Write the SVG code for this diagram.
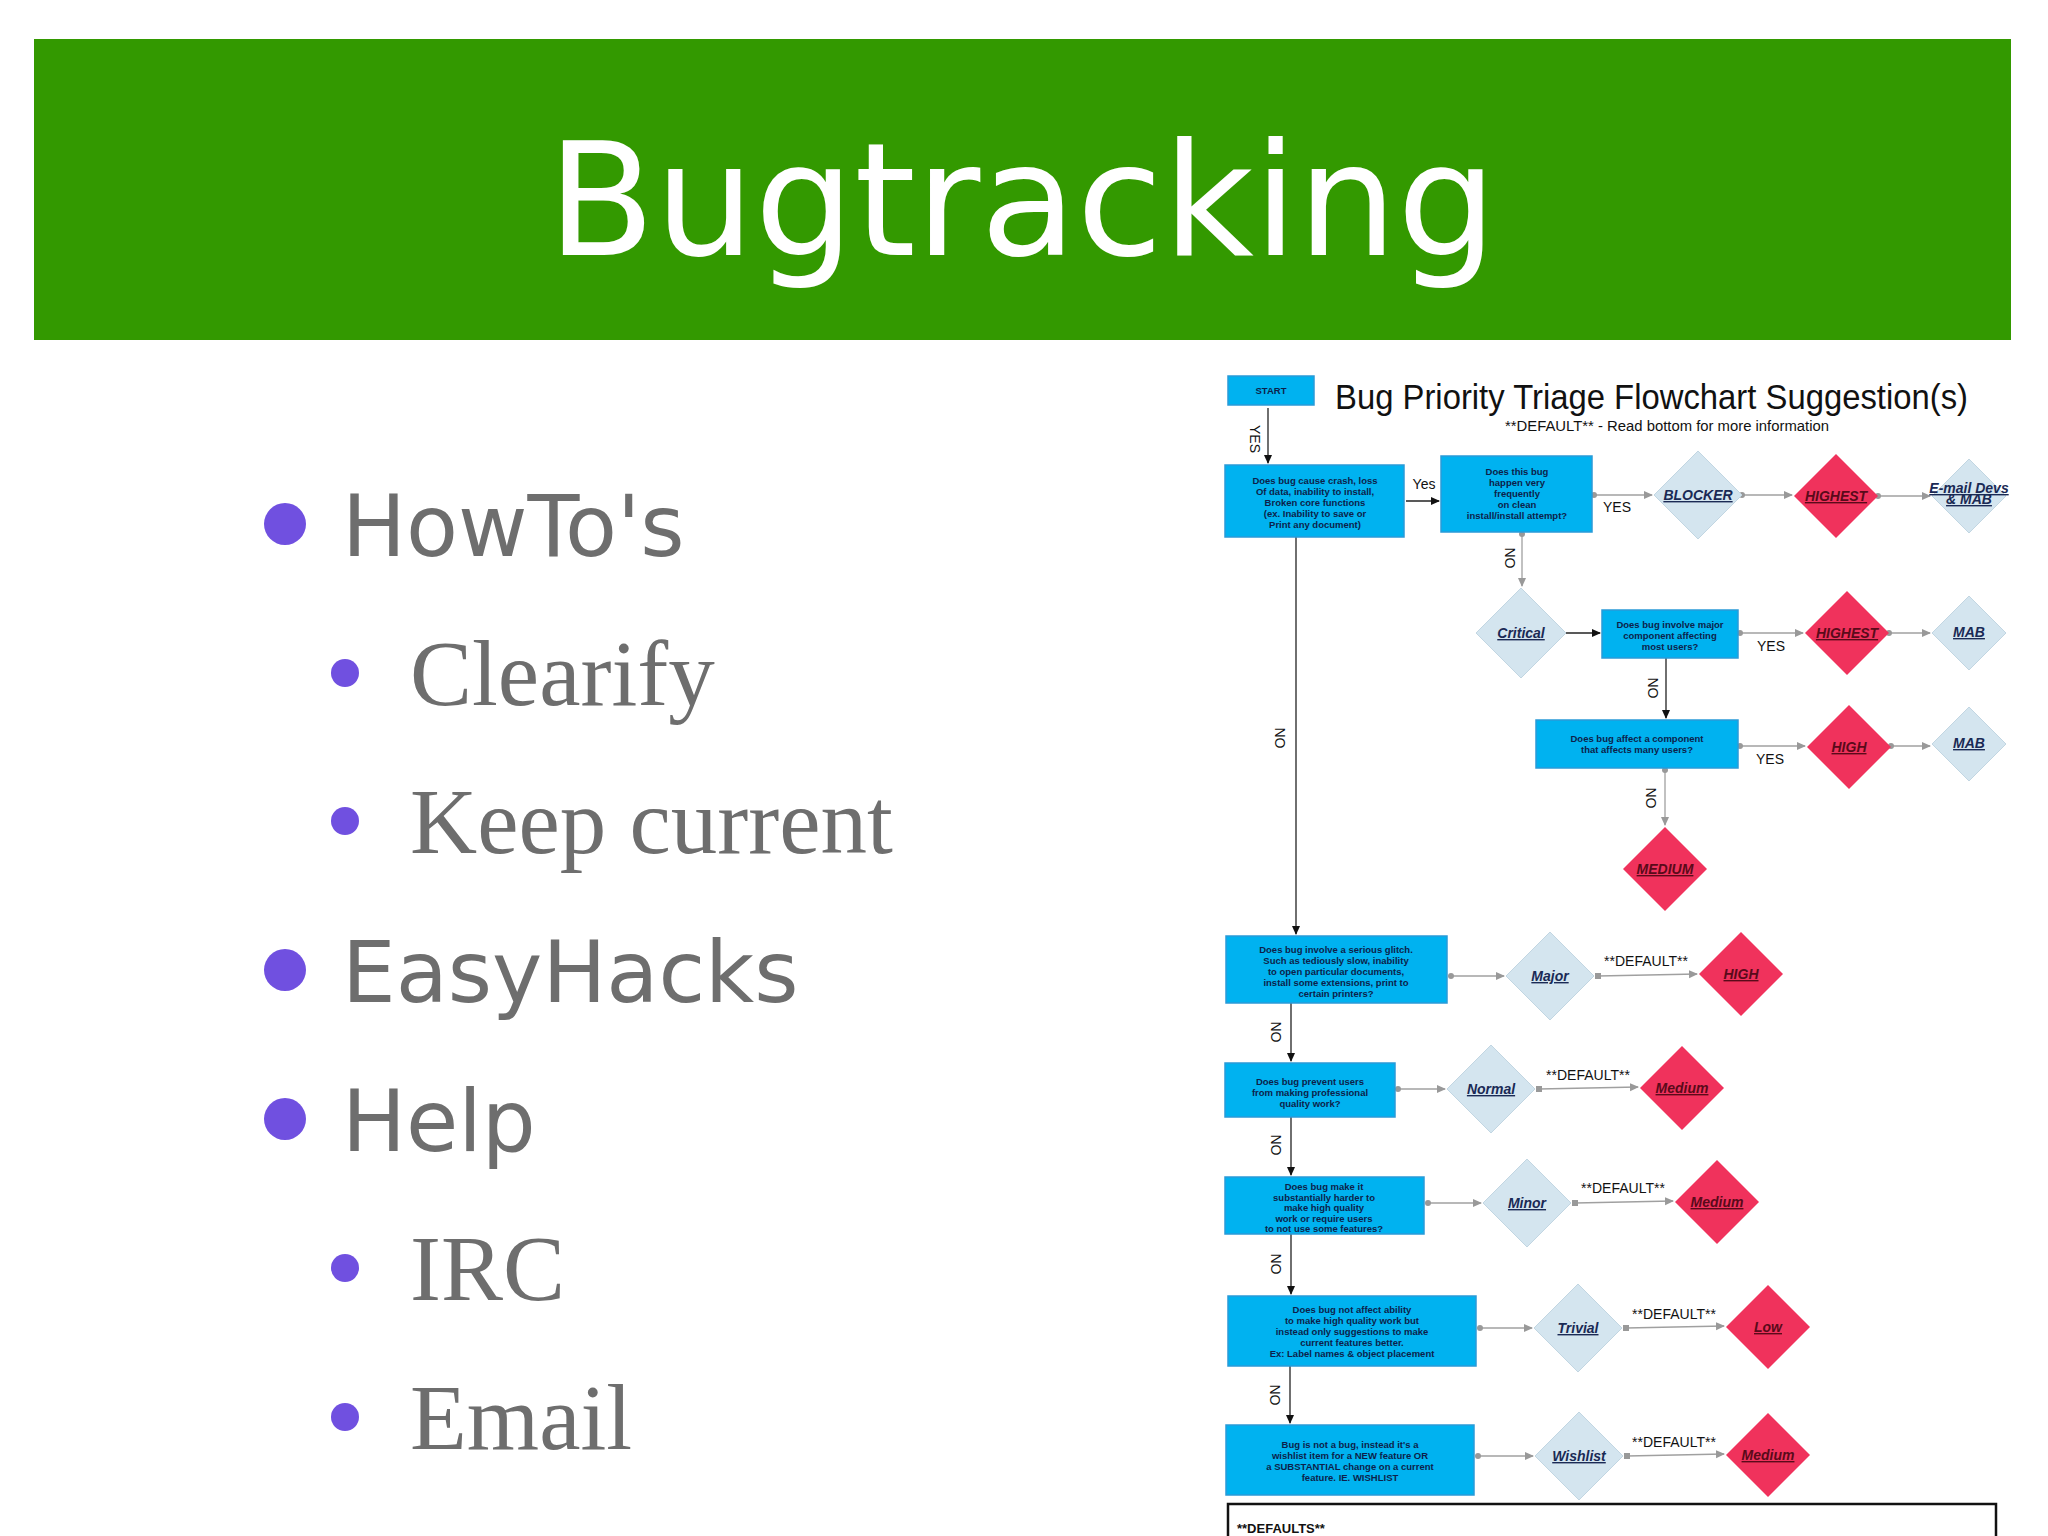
<svg xmlns="http://www.w3.org/2000/svg" width="2048" height="1536" viewBox="0 0 2048 1536">
<style>
.b{fill:#00b2f0;stroke:#2a9ad8;stroke-width:1.5}
.bt{font-family:"Liberation Sans",Arial,sans-serif;font-weight:bold;font-size:9.5px;fill:#0d1f4a;text-anchor:middle}
.d{fill:#d4e5ef;stroke:#c2d6e2;stroke-width:1}
.r{fill:#f0325c}
.dt{font-family:"Liberation Sans",Arial,sans-serif;font-weight:bold;font-style:italic;font-size:14px;text-anchor:middle;text-decoration:underline}
.lb{font-family:"Liberation Sans",Arial,sans-serif;font-size:14px;fill:#111;text-anchor:middle}
.k{stroke:#222;stroke-width:1.3;fill:none}
.g{stroke:#a0a0a0;stroke-width:1.3;fill:none}
.s{font-family:"DejaVu Sans",sans-serif;font-size:85px;fill:#6e6e6e}
.sr{font-family:"Liberation Serif","Times New Roman",serif;font-size:93px;fill:#6e6e6e}
.dot{fill:#7050e0}
</style>
<defs>
<marker id="ak" markerWidth="10" markerHeight="10" refX="8" refY="4" orient="auto" markerUnits="userSpaceOnUse"><path d="M0,0 L9,4 L0,8 z" fill="#111"/></marker>
<marker id="ag" markerWidth="10" markerHeight="10" refX="8" refY="4" orient="auto" markerUnits="userSpaceOnUse"><path d="M0,0 L9,4 L0,8 z" fill="#999"/></marker>
<marker id="cg" markerWidth="8" markerHeight="8" refX="4" refY="4" markerUnits="userSpaceOnUse"><circle cx="4" cy="4" r="3" fill="#999"/></marker>
<marker id="sg" markerWidth="8" markerHeight="8" refX="4" refY="4" markerUnits="userSpaceOnUse"><rect x="1" y="1" width="6" height="6" fill="#999"/></marker>
</defs>
<rect width="2048" height="1536" fill="#fff"/>
<g id="banner">
<rect x="34" y="39" width="1977" height="301" fill="#339900"/>
<text x="1022" y="255" font-family="DejaVu Sans,sans-serif" font-size="157" fill="#fff" text-anchor="middle">Bugtracking</text>
</g>
<g id="bullets">
<circle class="dot" cx="285" cy="524" r="21"/><text class="s" x="342" y="556">HowTo's</text>
<circle class="dot" cx="345" cy="673" r="14"/><text class="sr" x="410" y="705">Clearify</text>
<circle class="dot" cx="345" cy="821" r="14"/><text class="sr" x="410" y="853">Keep current</text>
<circle class="dot" cx="285" cy="970" r="21"/><text class="s" x="342" y="1002">EasyHacks</text>
<circle class="dot" cx="285" cy="1119" r="21"/><text class="s" x="342" y="1151">Help</text>
<circle class="dot" cx="345" cy="1268" r="14"/><text class="sr" x="410" y="1300">IRC</text>
<circle class="dot" cx="345" cy="1417" r="14"/><text class="sr" x="410" y="1449">Email</text>
</g>
<g id="connectors">
<path class="k" d="M1268,408 V463" marker-end="url(#ak)"/>
<path class="k" d="M1406,501 H1439" marker-end="url(#ak)"/>
<path class="k" d="M1296,537 V934" marker-end="url(#ak)"/>
<path class="g" d="M1594,495 H1652" marker-start="url(#cg)" marker-end="url(#ag)"/>
<path class="g" d="M1742,495 H1792" marker-start="url(#cg)" marker-end="url(#ag)"/>
<path class="g" d="M1878,496 H1930" marker-start="url(#cg)" marker-end="url(#ag)"/>
<path class="g" d="M1522,534 V586" marker-start="url(#cg)" marker-end="url(#ag)"/>
<path class="k" d="M1566,633 H1600" marker-end="url(#ak)"/>
<path class="g" d="M1740,633 H1803" marker-start="url(#cg)" marker-end="url(#ag)"/>
<path class="g" d="M1889,633 H1930" marker-start="url(#cg)" marker-end="url(#ag)"/>
<path class="k" d="M1666,658 V718" marker-end="url(#ak)"/>
<path class="g" d="M1740,746 H1805" marker-start="url(#cg)" marker-end="url(#ag)"/>
<path class="g" d="M1891,746 H1930" marker-start="url(#cg)" marker-end="url(#ag)"/>
<path class="g" d="M1665,770 V825" marker-start="url(#cg)" marker-end="url(#ag)"/>
<path class="k" d="M1291,1003 V1061" marker-end="url(#ak)"/>
<path class="k" d="M1291,1117 V1175" marker-end="url(#ak)"/>
<path class="k" d="M1291,1234 V1294" marker-end="url(#ak)"/>
<path class="k" d="M1290,1366 V1423" marker-end="url(#ak)"/>
<path class="g" d="M1451,976 H1504" marker-start="url(#cg)" marker-end="url(#ag)"/>
<path class="g" d="M1598,976 L1697,974" marker-start="url(#sg)" marker-end="url(#ag)"/>
<path class="g" d="M1398,1089 H1445" marker-start="url(#cg)" marker-end="url(#ag)"/>
<path class="g" d="M1539,1089 L1638,1087" marker-start="url(#sg)" marker-end="url(#ag)"/>
<path class="g" d="M1428,1203 H1481" marker-start="url(#cg)" marker-end="url(#ag)"/>
<path class="g" d="M1575,1203 L1673,1201" marker-start="url(#sg)" marker-end="url(#ag)"/>
<path class="g" d="M1480,1328 H1532" marker-start="url(#cg)" marker-end="url(#ag)"/>
<path class="g" d="M1626,1328 L1724,1326" marker-start="url(#sg)" marker-end="url(#ag)"/>
<path class="g" d="M1478,1456 H1533" marker-start="url(#cg)" marker-end="url(#ag)"/>
<path class="g" d="M1627,1456 L1724,1454" marker-start="url(#sg)" marker-end="url(#ag)"/>
</g>
<g id="labels" font-family="Liberation Sans,Arial,sans-serif">
<text x="1335" y="409" font-size="35" fill="#111" textLength="633" lengthAdjust="spacingAndGlyphs">Bug Priority Triage Flowchart Suggestion(s)</text>
<text x="1505" y="431" font-size="14" fill="#111" textLength="324" lengthAdjust="spacingAndGlyphs">**DEFAULT**  - Read bottom for more information</text>
<text class="lb" transform="translate(1250,439) rotate(90)">YES</text>
<text class="lb" x="1424" y="489">Yes</text>
<text class="lb" x="1617" y="512">YES</text>
<text class="lb" transform="translate(1505,558) rotate(90)">NO</text>
<text class="lb" transform="translate(1648,688) rotate(90)">NO</text>
<text class="lb" x="1771" y="651">YES</text>
<text class="lb" x="1770" y="764">YES</text>
<text class="lb" transform="translate(1646,798) rotate(90)">NO</text>
<text class="lb" transform="translate(1275,738) rotate(90)">NO</text>
<text class="lb" transform="translate(1271,1032) rotate(90)">NO</text>
<text class="lb" transform="translate(1271,1145) rotate(90)">NO</text>
<text class="lb" transform="translate(1271,1264) rotate(90)">NO</text>
<text class="lb" transform="translate(1270,1395) rotate(90)">NO</text>
<text class="lb" x="1646" y="966">**DEFAULT**</text>
<text class="lb" x="1588" y="1080">**DEFAULT**</text>
<text class="lb" x="1623" y="1193">**DEFAULT**</text>
<text class="lb" x="1674" y="1319">**DEFAULT**</text>
<text class="lb" x="1674" y="1447">**DEFAULT**</text>
</g>
<g id="start"><rect class="b" x="1228" y="376" width="86" height="29"/><text class="bt" x="1271" y="394">START</text></g>
<g id="q1"><rect class="b" x="1225" y="465" width="179" height="72"/>
<text class="bt" x="1315" y="484">Does bug cause crash, loss<tspan x="1315" dy="11">Of data, inability to install,</tspan><tspan x="1315" dy="11">Broken core functions</tspan><tspan x="1315" dy="11">(ex. Inability to save or</tspan><tspan x="1315" dy="11">Print any document)</tspan></text></g>
<g id="q2"><rect class="b" x="1441" y="456" width="151" height="76"/>
<text class="bt" x="1517" y="475">Does this bug<tspan x="1517" dy="11">happen very</tspan><tspan x="1517" dy="11">frequently</tspan><tspan x="1517" dy="11">on clean</tspan><tspan x="1517" dy="11">install/install attempt?</tspan></text></g>
<g id="blocker"><path class="d" d="M1698,451 L1742,495 L1698,539 L1654,495 z"/><text class="dt" x="1698" y="500" fill="#1a2a55">BLOCKER</text></g>
<g id="highest1"><path class="r" d="M1836,454 L1878,496 L1836,538 L1794,496 z"/><text class="dt" x="1836" y="501" fill="#5a0a1a">HIGHEST</text></g>
<g id="email"><path class="d" d="M1969,459 L2006,496 L1969,533 L1932,496 z"/><text class="dt" x="1969" y="493" font-size="8" fill="#1a2a55">E-mail Devs</text><text class="dt" x="1969" y="504" font-size="8" fill="#1a2a55">&amp; MAB</text></g>
<g id="critical"><path class="d" d="M1521,588 L1566,633 L1521,678 L1476,633 z"/><text class="dt" x="1521" y="638" fill="#1a2a55">Critical</text></g>
<g id="q3"><rect class="b" x="1602" y="610" width="136" height="48"/>
<text class="bt" x="1670" y="628">Does bug involve major<tspan x="1670" dy="11">component affecting</tspan><tspan x="1670" dy="11">most users?</tspan></text></g>
<g id="highest2"><path class="r" d="M1847,591 L1889,633 L1847,675 L1805,633 z"/><text class="dt" x="1847" y="638" fill="#5a0a1a">HIGHEST</text></g>
<g id="mab1"><path class="d" d="M1969,596 L2006,633 L1969,670 L1932,633 z"/><text class="dt" x="1969" y="637" font-size="9" fill="#1a2a55">MAB</text></g>
<g id="q4"><rect class="b" x="1536" y="720" width="202" height="48"/>
<text class="bt" x="1637" y="742">Does bug affect a component<tspan x="1637" dy="11">that affects many users?</tspan></text></g>
<g id="high1"><path class="r" d="M1849,705 L1891,747 L1849,789 L1807,747 z"/><text class="dt" x="1849" y="752" fill="#5a0a1a">HIGH</text></g>
<g id="mab2"><path class="d" d="M1969,707 L2006,744 L1969,781 L1932,744 z"/><text class="dt" x="1969" y="748" font-size="9" fill="#1a2a55">MAB</text></g>
<g id="medium1"><path class="r" d="M1665,827 L1707,869 L1665,911 L1623,869 z"/><text class="dt" x="1665" y="874" fill="#5a0a1a">MEDIUM</text></g>
<g id="q5"><rect class="b" x="1226" y="936" width="221" height="67"/>
<text class="bt" x="1336" y="953">Does bug involve a serious glitch.<tspan x="1336" dy="11">Such as tediously slow, inability</tspan><tspan x="1336" dy="11">to open particular documents,</tspan><tspan x="1336" dy="11">install some extensions, print to</tspan><tspan x="1336" dy="11">certain printers?</tspan></text></g>
<g id="major"><path class="d" d="M1550,932 L1594,976 L1550,1020 L1506,976 z"/><text class="dt" x="1550" y="981" fill="#1a2a55">Major</text></g>
<g id="high2"><path class="r" d="M1741,932 L1783,974 L1741,1016 L1699,974 z"/><text class="dt" x="1741" y="979" fill="#5a0a1a">HIGH</text></g>
<g id="q6"><rect class="b" x="1225" y="1063" width="170" height="54"/>
<text class="bt" x="1310" y="1085">Does bug prevent users<tspan x="1310" dy="11">from making professional</tspan><tspan x="1310" dy="11">quality work?</tspan></text></g>
<g id="normal"><path class="d" d="M1491,1045 L1535,1089 L1491,1133 L1447,1089 z"/><text class="dt" x="1491" y="1094" fill="#1a2a55">Normal</text></g>
<g id="medium2"><path class="r" d="M1682,1046 L1724,1088 L1682,1130 L1640,1088 z"/><text class="dt" x="1682" y="1093" fill="#5a0a1a">Medium</text></g>
<g id="q7"><rect class="b" x="1225" y="1177" width="199" height="57"/>
<text class="bt" x="1324" y="1190">Does bug make it<tspan x="1324" dy="10.5">substantially harder to</tspan><tspan x="1324" dy="10.5">make high quality</tspan><tspan x="1324" dy="10.5">work or require users</tspan><tspan x="1324" dy="10.5">to not use some features?</tspan></text></g>
<g id="minor"><path class="d" d="M1527,1159 L1571,1203 L1527,1247 L1483,1203 z"/><text class="dt" x="1527" y="1208" fill="#1a2a55">Minor</text></g>
<g id="medium3"><path class="r" d="M1717,1160 L1759,1202 L1717,1244 L1675,1202 z"/><text class="dt" x="1717" y="1207" fill="#5a0a1a">Medium</text></g>
<g id="q8"><rect class="b" x="1228" y="1296" width="248" height="70"/>
<text class="bt" x="1352" y="1313">Does bug not affect ability<tspan x="1352" dy="11">to make high quality work but</tspan><tspan x="1352" dy="11">instead only suggestions to make</tspan><tspan x="1352" dy="11">current features better.</tspan><tspan x="1352" dy="11">Ex: Label names &amp; object placement</tspan></text></g>
<g id="trivial"><path class="d" d="M1578,1284 L1622,1328 L1578,1372 L1534,1328 z"/><text class="dt" x="1578" y="1333" fill="#1a2a55">Trivial</text></g>
<g id="low"><path class="r" d="M1768,1285 L1810,1327 L1768,1369 L1726,1327 z"/><text class="dt" x="1768" y="1332" fill="#5a0a1a">Low</text></g>
<g id="q9"><rect class="b" x="1226" y="1425" width="248" height="70"/>
<text class="bt" x="1350" y="1448">Bug is not a bug, instead it's a<tspan x="1350" dy="11">wishlist item for a NEW feature OR</tspan><tspan x="1350" dy="11">a SUBSTANTIAL change on a current</tspan><tspan x="1350" dy="11">feature. IE. WISHLIST</tspan></text></g>
<g id="wishlist"><path class="d" d="M1579,1412 L1623,1456 L1579,1500 L1535,1456 z"/><text class="dt" x="1579" y="1461" fill="#1a2a55">Wishlist</text></g>
<g id="medium4"><path class="r" d="M1768,1413 L1810,1455 L1768,1497 L1726,1455 z"/><text class="dt" x="1768" y="1460" fill="#5a0a1a">Medium</text></g>
<g id="defaults"><rect x="1228" y="1504" width="768" height="60" fill="#fff" stroke="#111" stroke-width="2.5"/>
<text x="1237" y="1533" font-family="Liberation Sans,Arial,sans-serif" font-weight="bold" font-size="13" fill="#111">**DEFAULTS**</text></g>
</svg>
